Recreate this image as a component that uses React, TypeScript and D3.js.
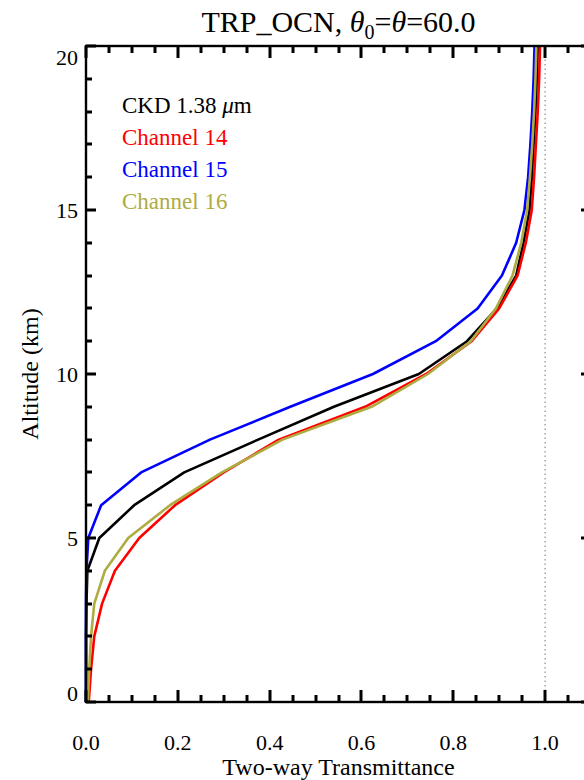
import React from 'react';
import * as d3 from 'd3';

// altitude levels (km) and two-way transmittance
const altitudes = [0, 1, 2, 3, 4, 5, 6, 7, 8, 9, 10, 11, 12, 13, 14, 15, 16, 17, 18, 19, 20];
const ckd = [0.0, 0.0, 0.0, 0.001, 0.003, 0.029, 0.105, 0.214, 0.375, 0.54, 0.725, 0.83, 0.895, 0.937, 0.953, 0.966, 0.971, 0.975, 0.979, 0.982, 0.984];
const ch14 = [0.006, 0.011, 0.018, 0.035, 0.063, 0.116, 0.194, 0.3, 0.42, 0.608, 0.741, 0.84, 0.9, 0.94, 0.958, 0.971, 0.976, 0.98, 0.984, 0.987, 0.989];
const ch15 = [0.0, 0.0, 0.0, 0.0, 0.001, 0.005, 0.033, 0.12, 0.27, 0.445, 0.625, 0.762, 0.853, 0.906, 0.937, 0.955, 0.963, 0.968, 0.972, 0.975, 0.977];
const ch16 = [0.004, 0.007, 0.011, 0.018, 0.041, 0.092, 0.183, 0.296, 0.428, 0.622, 0.745, 0.838, 0.893, 0.929, 0.948, 0.961, 0.967, 0.972, 0.976, 0.979, 0.981];

const seriesNames = ['CKD', 'Channel 14', 'Channel 15', 'Channel 16'];
const seriesColors = ['#000000', '#ff0000', '#0000ff', '#aeac40'];

const xMajor = [0, 0.2, 0.4, 0.6, 0.8, 1.0];
const yMajor = [0, 5, 10, 15, 20];

const FONT = '"Liberation Serif", "Times New Roman", serif';

const App = () => {
    const left = 86, right = 591, top = 46, bottom = 702;

    const x = d3.scaleLinear().domain([0, 1.1]).range([left, right]);
    const y = d3.scaleLinear().domain([0, 20]).range([bottom, top]);

    const line = d3.line<number>()
        .x(d => x(d))
        .y((d, i) => y(altitudes[i]));

    const series = [ckd, ch14, ch15, ch16];

    // minor tick positions on both axes
    const xMinor = x.ticks(22);
    const yMinor = y.ticks(20);

    const tickRects: React.ReactNode[] = [];
    xMinor.forEach((t, i) => {
        const len = xMajor.some(m => Math.abs(m - t) < 1e-6) ? 12 : 7;
        const px = Math.round(x(t)) - 1.5;
        tickRects.push(<rect key={'xb' + i} x={px} y={bottom - len} width={3} height={len} fill="#000" />);
        tickRects.push(<rect key={'xt' + i} x={px} y={top} width={3} height={len} fill="#000" />);
    });
    yMinor.forEach((t, i) => {
        const len = yMajor.includes(t) ? 10 : 6;
        const py = Math.round(y(t)) - 1.5;
        tickRects.push(<rect key={'yl' + i} x={left} y={py} width={len} height={3} fill="#000" />);
        tickRects.push(<rect key={'yr' + i} x={right - len} y={py} width={len} height={3} fill="#000" />);
    });

    return (
        <svg width={584} height={780} style={{position: 'fixed', left: 0, top: 0, background: '#fff'}}
            fontFamily={FONT}>
            <rect x={0} y={0} width={584} height={780} fill="#fff" />

            {/* title */}
            <text x={(left + right) / 2} y={32} textAnchor="middle" fontSize={30}>
                TRP_OCN, <tspan fontStyle="italic">θ</tspan>
                <tspan dy={7} fontSize={20}>0</tspan>
                <tspan dy={-7}>=</tspan>
                <tspan fontStyle="italic">θ</tspan>=60.0
            </text>

            {/* reference line at T = 1 */}
            <line x1={x(1)} x2={x(1)} y1={top} y2={bottom} stroke="#777" strokeWidth={1}
                strokeDasharray="1.5 3" />

            {/* curves */}
            {series.map((s, i) => (
                <path key={i} d={line(s) || ''} fill="none" stroke={seriesColors[i]}
                    strokeWidth={2.6} strokeLinejoin="round" />
            ))}

            {/* frame and ticks */}
            <rect x={left} y={top} width={right - left} height={bottom - top} fill="none"
                stroke="#000" strokeWidth={2.4} />
            {tickRects}

            {/* x tick labels */}
            {xMajor.map(t => (
                <text key={'xl' + t} x={x(t)} y={750} textAnchor="middle" fontSize={22}>
                    {t.toFixed(1)}
                </text>
            ))}
            {/* y tick labels */}
            {yMajor.map(t => {
                let yy = y(t) + 8;
                if (t === 20) yy = y(t) + 19;
                if (t === 0) yy = y(t) - 1;
                return (
                    <text key={'yl' + t} x={78} y={yy} textAnchor="end" fontSize={22}>{t}</text>
                );
            })}

            {/* axis titles */}
            <text x={(left + right) / 2} y={775} textAnchor="middle" fontSize={24}>
                Two-way Transmittance
            </text>
            <text transform={`translate(38, ${(top + bottom) / 2}) rotate(-90)`} textAnchor="middle"
                fontSize={24}>
                Altitude (km)
            </text>

            {/* legend */}
            {seriesNames.map((n, i) => (
                <text key={'lg' + i} x={122} y={113 + i * 32} fontSize={23} fill={seriesColors[i]}>
                    {i === 0 ? (
                        <>CKD 1.38 <tspan fontStyle="italic">μ</tspan>m</>
                    ) : n}
                </text>
            ))}
        </svg>
    );
};

export default App;
